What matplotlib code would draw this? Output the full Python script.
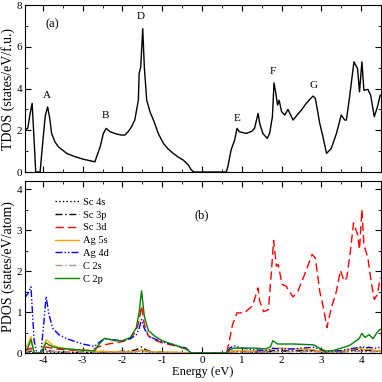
import matplotlib
matplotlib.use("Agg")
import matplotlib.pyplot as plt
from matplotlib.ticker import MultipleLocator

plt.rcParams['font.family'] = ['Liberation Serif', 'DejaVu Serif']
plt.rcParams['axes.unicode_minus'] = False

# total DOS (panel a)
tdos_e = [-4.45, -4.38, -4.32, -4.27, -4.22, -4.18, -4.07, -4.0, -3.94, -3.88,
          -3.83, -3.78, -3.70, -3.61, -3.40, -3.2, -2.98, -2.69, -2.65, -2.56,
          -2.48, -2.41, -2.31, -2.15, -2.02, -1.94, -1.85, -1.77, -1.69, -1.60,
          -1.58, -1.54, -1.49, -1.45, -1.39, -1.30, -1.22, -1.10, -0.97, -0.85,
          -0.72, -0.6, -0.47, -0.34, -0.27, -0.2, 0.61, 0.65, 0.73, 0.82,
          0.88, 0.94, 1.11, 1.25, 1.32, 1.41, 1.45, 1.53, 1.64, 1.70,
          1.77, 1.81, 1.85, 1.90, 1.94, 2.00, 2.08, 2.16, 2.29, 2.40,
          2.50, 2.62, 2.72, 2.79, 2.85, 2.96, 3.04, 3.13, 3.25, 3.38,
          3.50, 3.59, 3.63, 3.71, 3.82, 3.91, 3.96, 4.02, 4.07, 4.17,
          4.24, 4.33, 4.41, 4.48]
tdos = [2.0, 2.1, 2.8, 3.29, 1.5, 0.0, 0.0, 1.5, 2.7, 3.12,
        2.6, 1.85, 1.45, 1.21, 0.89, 0.74, 0.61, 0.49, 0.73, 1.21,
        1.85, 2.09, 1.93, 1.82, 1.77, 1.77, 1.95, 2.17, 2.49, 3.44,
        4.72, 5.04, 6.87, 5.04, 3.44, 2.85, 2.49, 1.85, 1.37, 1.1,
        0.89, 0.72, 0.57, 0.33, 0.1, 0.0, 0.0, 0.25, 1.05, 1.53,
        2.09, 1.93, 1.85, 1.95, 2.09, 2.81, 2.33, 1.85, 1.61, 1.85,
        2.65, 4.27, 3.84, 3.21, 3.44, 2.89, 2.73, 3.0, 2.49, 2.75,
        2.97, 3.29, 3.5, 3.64, 3.53, 2.33, 1.69, 0.89, 1.13, 1.85,
        2.73, 2.49, 2.49, 3.60, 5.28, 4.96, 3.84, 5.28, 3.92, 3.96,
        3.68, 2.65, 3.12, 3.68]

peak_names = ['A', 'B', 'D', 'E', 'F', 'G']
peak_x = [-3.9, -2.44, -1.53, 0.88, 1.78, 2.8]
peak_y = [3.45, 2.5, 7.25, 2.35, 4.6, 3.95]

# Sc 3d (panel b), own grid
sc3d_e = [-4.45, -4.3, -4.2, -4.05, -3.92, -3.7, -3.3, -2.8, -2.6, -2.45,
          -2.2, -2.0, -1.8, -1.65, -1.58, -1.52, -1.45, -1.35, -1.2, -1.0,
          -0.7, -0.4, -0.27, 0.62, 0.65, 0.77, 0.88, 1.06, 1.27, 1.41,
          1.45, 1.55, 1.67, 1.74, 1.80, 1.87, 1.92, 2.01, 2.12, 2.16,
          2.29, 2.41, 2.58, 2.77, 2.85, 2.96, 3.07, 3.14, 3.25, 3.38,
          3.48, 3.57, 3.64, 3.73, 3.81, 3.91, 3.96, 4.02, 4.07, 4.17,
          4.25, 4.33, 4.41, 4.48]
sc3d = [0.05, 0.12, 0.0, 0.0, 0.15, 0.1, 0.07, 0.06, 0.15, 0.2,
        0.25, 0.28, 0.35, 0.55, 0.8, 1.15, 0.7, 0.42, 0.32, 0.25,
        0.18, 0.1, 0.0, 0.0, 0.13, 0.7, 0.98, 0.98, 1.15, 1.59,
        1.27, 1.01, 1.06, 1.92, 2.75, 2.12, 2.16, 1.68, 1.63, 1.55,
        1.37, 1.51, 1.92, 2.41, 2.32, 1.51, 1.02, 0.62, 1.1, 1.51,
        2.02, 1.76, 1.84, 2.49, 3.18, 2.9, 2.53, 3.5, 2.65, 2.32,
        1.76, 1.31, 1.43, 1.84]

# other projections share one grid
pdos_e = [-4.45, -4.38, -4.3, -4.22, -4.15, -4.05, -3.97, -3.92, -3.85, -3.75,
          -3.6, -3.4, -3.0, -2.7, -2.6, -2.45, -2.2, -2.0, -1.8, -1.65,
          -1.58, -1.52, -1.45, -1.35, -1.2, -1.0, -0.7, -0.4, -0.27,
          0.62, 0.7, 0.8, 1.0, 1.3, 1.6, 1.72, 1.78, 1.9, 2.3,
          2.8, 2.95, 3.1, 3.3, 3.5, 3.7, 3.85, 3.95, 4.02, 4.1,
          4.2, 4.3, 4.4, 4.48]
sc4s = [0.01, 0.02, 0.03, 0.0, 0.0, 0.0, 0.04, 0.03, 0.02, 0.02,
        0.01, 0.01, 0.01, 0.01, 0.01, 0.02, 0.02, 0.02, 0.02, 0.03,
        0.05, 0.07, 0.04, 0.02, 0.01, 0.01, 0.01, 0.0, 0.0,
        0.0, 0.02, 0.03, 0.03, 0.02, 0.02, 0.03, 0.04, 0.04, 0.04,
        0.05, 0.03, 0.02, 0.02, 0.03, 0.04, 0.05, 0.06, 0.05, 0.04,
        0.05, 0.04, 0.04, 0.05]
sc3p = [0.02, 0.03, 0.05, 0.0, 0.0, 0.0, 0.12, 0.08, 0.05, 0.04,
        0.03, 0.02, 0.02, 0.01, 0.02, 0.03, 0.03, 0.04, 0.05, 0.08,
        0.12, 0.15, 0.1, 0.05, 0.03, 0.02, 0.01, 0.01, 0.0,
        0.0, 0.03, 0.05, 0.04, 0.03, 0.03, 0.04, 0.06, 0.05, 0.05,
        0.06, 0.04, 0.02, 0.02, 0.04, 0.06, 0.08, 0.1, 0.08, 0.06,
        0.07, 0.05, 0.06, 0.06]
ag5s = [0.1, 0.2, 0.4, 0.0, 0.0, 0.0, 0.2, 0.32, 0.28, 0.18,
        0.14, 0.1, 0.07, 0.05, 0.04, 0.04, 0.03, 0.03, 0.03, 0.04,
        0.06, 0.08, 0.06, 0.04, 0.03, 0.02, 0.02, 0.01, 0.0,
        0.0, 0.03, 0.05, 0.05, 0.05, 0.06, 0.08, 0.1, 0.12, 0.1,
        0.08, 0.05, 0.03, 0.03, 0.05, 0.08, 0.1, 0.12, 0.1, 0.08,
        0.1, 0.08, 0.06, 0.05]
ag4d = [1.35, 1.45, 1.62, 0.3, 0.0, 0.0, 0.8, 1.38, 0.95, 0.6,
        0.45, 0.35, 0.22, 0.16, 0.25, 0.35, 0.32, 0.3, 0.35, 0.45,
        0.6, 0.82, 0.6, 0.42, 0.35, 0.27, 0.2, 0.12, 0.0,
        0.0, 0.12, 0.18, 0.12, 0.08, 0.06, 0.08, 0.12, 0.1, 0.1,
        0.14, 0.1, 0.04, 0.04, 0.06, 0.1, 0.12, 0.14, 0.16, 0.12,
        0.14, 0.12, 0.12, 0.14]
c2s = [0.02, 0.04, 0.08, 0.0, 0.0, 0.0, 0.05, 0.06, 0.05, 0.04,
       0.03, 0.02, 0.02, 0.01, 0.01, 0.02, 0.02, 0.02, 0.02, 0.03,
       0.04, 0.05, 0.04, 0.03, 0.02, 0.01, 0.01, 0.01, 0.0,
       0.0, 0.01, 0.02, 0.02, 0.02, 0.02, 0.02, 0.03, 0.03, 0.03,
       0.03, 0.02, 0.01, 0.01, 0.02, 0.03, 0.03, 0.04, 0.03, 0.03,
       0.03, 0.03, 0.03, 0.03]
c2p = [0.05, 0.12, 0.33, 0.0, 0.0, 0.0, 0.15, 0.25, 0.2, 0.15,
       0.12, 0.1, 0.07, 0.05, 0.2, 0.36, 0.3, 0.3, 0.38, 0.62,
       1.0, 1.52, 0.9, 0.55, 0.42, 0.3, 0.2, 0.1, 0.0,
       0.0, 0.08, 0.12, 0.12, 0.12, 0.1, 0.15, 0.3, 0.22, 0.22,
       0.2, 0.12, 0.05, 0.06, 0.12, 0.18, 0.28, 0.35, 0.48, 0.38,
       0.45, 0.35, 0.5, 0.58]

fig = plt.figure(figsize=(3.82, 3.82), dpi=100)
ax1 = fig.add_axes([0.0654, 0.5497, 0.932, 0.437])
ax2 = fig.add_axes([0.0654, 0.0759, 0.932, 0.450])

ax1.plot(tdos_e, tdos, color='black', lw=1.0)
for name, x, y in zip(peak_names, peak_x, peak_y):
    ax1.text(x, y, name, ha='center', va='bottom', fontsize=8)
ax1.text(-3.77, 7.1, '(a)', ha='center', va='center', fontsize=9)
ax1.set_ylim(0, 8)
ax1.set_ylabel('TDOS (states/eV/f.u.)', fontsize=10, labelpad=1)
ax1.yaxis.set_major_locator(MultipleLocator(2))
ax1.yaxis.set_minor_locator(MultipleLocator(1))
ax1.tick_params(labelbottom=False)

ax2.plot(pdos_e, sc4s, color='black', ls=':', lw=1.0, label='Sc 4s')
ax2.plot(pdos_e, sc3p, color='black', ls=(0, (5, 2, 1, 2)), lw=1.0, label='Sc 3p')
ax2.plot(sc3d_e, sc3d, color='red', ls=(0, (6, 3)), lw=1.0, label='Sc 3d')
ax2.plot(pdos_e, ag5s, color='orange', lw=1.0, label='Ag 5s')
ax2.plot(pdos_e, ag4d, color='blue', ls=(0, (5, 1.5, 1, 1.5, 1, 1.5)), lw=1.0, label='Ag 4d')
ax2.plot(pdos_e, c2s, color='rosybrown', ls=(0, (5, 2, 1, 2)), lw=1.0, label='C 2s')
ax2.plot(pdos_e, c2p, color='green', lw=1.0, label='C 2p')
ax2.text(-0.02, 3.37, '(b)', ha='center', va='center', fontsize=9)
ax2.set_ylim(0, 4.2)
ax2.set_ylabel('PDOS (states/eV/atom)', fontsize=10, labelpad=1)
ax2.set_xlabel('Energy (eV)', fontsize=9, labelpad=1)
ax2.yaxis.set_major_locator(MultipleLocator(1))
ax2.yaxis.set_minor_locator(MultipleLocator(0.5))
ax2.legend(loc='upper left', bbox_to_anchor=(0.084, 0.905), frameon=False,
           fontsize=7.5, handlelength=2.3, handletextpad=0.4, labelspacing=0.34,
           borderaxespad=0, borderpad=0)

for ax in (ax1, ax2):
    ax.set_xlim(-4.45, 4.5)
    ax.xaxis.set_major_locator(MultipleLocator(1))
    ax.xaxis.set_minor_locator(MultipleLocator(0.5))
    ax.tick_params(which='both', direction='in', top=True, right=True, labelsize=8, pad=2)
    ax.tick_params(which='major', length=4)
    ax.tick_params(which='minor', length=2)

fig.savefig('out.png', dpi=100)
